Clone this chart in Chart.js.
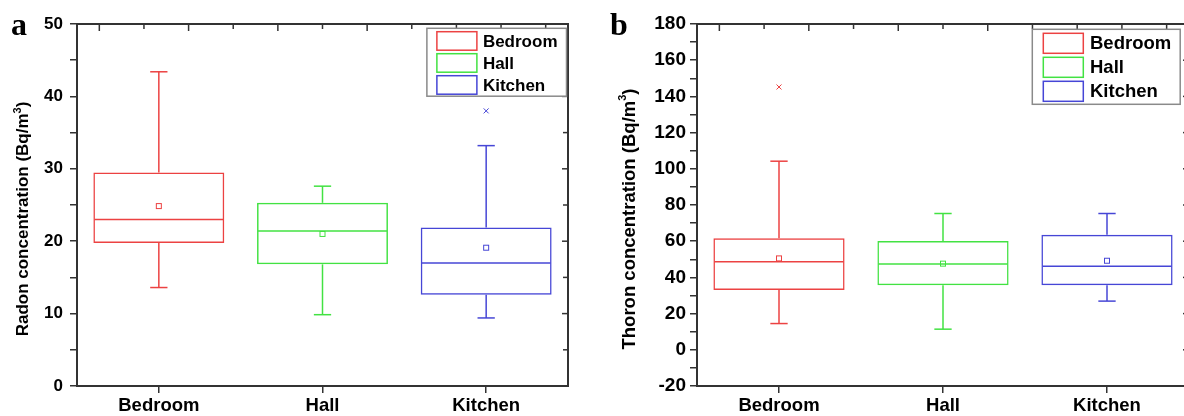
<!DOCTYPE html>
<html><head><meta charset="utf-8">
<script src="https://cdn.jsdelivr.net/npm/chart.js@4.4.1/dist/chart.umd.min.js"></script>
<style>
html,body{margin:0;padding:0;width:1184px;height:416px;overflow:hidden;background:#fff;}
#wrapA{position:absolute;left:0;top:0;width:592px;height:416px;}
#wrapB{position:absolute;left:592px;top:0;width:621px;height:416px;}
.panel{position:absolute;font-family:"Liberation Serif",serif;font-weight:bold;font-size:32px;line-height:32px;color:#000;}
</style></head><body>
<div id="wrapA"><canvas id="cA" width="592" height="416"></canvas></div>
<div id="wrapB"><canvas id="cB" width="621" height="416"></canvas></div>
<div class="panel" style="left:11px;top:8px">a</div>
<div class="panel" style="left:610px;top:8px">b</div>
<script>
// ---------- data ----------
const categories = ['Bedroom', 'Hall', 'Kitchen'];
const seriesColors = ['rgb(236,66,66)', 'rgb(66,226,66)', 'rgb(70,70,214)'];

// Radon (panel a)
const radonMin      = [13.6, 9.85, 9.4];
const radonQ1       = [19.75, 16.8, 12.6];
const radonMedian   = [23.0, 21.4, 17.0];
const radonQ3       = [29.5, 25.3, 21.9];
const radonMax      = [43.4, 27.6, 33.2];
const radonMean     = [24.85, 21.0, 19.1];
const radonOutliers = [[], [], [38.0]];
const radonRange    = [0, 50];
const radonTickStep = 5;
const radonLabelStep = 10;
const radonTitle    = ['Radon concentration (Bq/m', '3', ')'];

// Thoron (panel b)
const thoronMin      = [14.5, 11.4, 26.9];
const thoronQ1       = [33.0, 35.7, 35.6];
const thoronMedian   = [48.6, 47.4, 46.1];
const thoronQ3       = [61.6, 60.1, 63.6];
const thoronMax      = [104.2, 75.3, 75.3];
const thoronMean     = [50.5, 47.6, 49.2];
const thoronOutliers = [[145.2], [], []];
const thoronRange    = [-20, 180];
const thoronTickStep = 10;
const thoronLabelStep = 20;
const thoronTitle    = ['Thoron concentration (Bq/m', '3', ')'];

const FONT = "'Liberation Sans', Arial, sans-serif";
const AXIS = '#333';

function seg(ctx, x1, y1, x2, y2) { ctx.beginPath(); ctx.moveTo(x1, y1); ctx.lineTo(x2, y2); ctx.stroke(); }

const boxPlugin = {
  id: 'boxExtras',
  afterDatasetsDraw(chart, args, opts) {
    const { ctx } = chart;
    const x = chart.scales.x, y = chart.scales.y;
    const s = opts.stats;
    const meta = chart.getDatasetMeta(0);
    ctx.save();
    meta.data.forEach((bar, i) => {
      const cx = x.getPixelForValue(i);
      const half = bar.width / 2;
      const cap = bar.width * 0.066;
      const py = v => y.getPixelForValue(v);
      ctx.strokeStyle = seriesColors[i];
      ctx.lineWidth = 1.5;
      seg(ctx, cx, py(s.q3[i]), cx, py(s.max[i]));
      seg(ctx, cx, py(s.q1[i]), cx, py(s.min[i]));
      seg(ctx, cx - cap, py(s.max[i]), cx + cap, py(s.max[i]));
      seg(ctx, cx - cap, py(s.min[i]), cx + cap, py(s.min[i]));
      seg(ctx, cx - half + 1, py(s.median[i]), cx + half - 1, py(s.median[i]));
      ctx.lineWidth = 1;
      const my = py(s.mean[i]);
      ctx.strokeRect(cx - 2.5, my - 2.5, 5, 5);
      s.outliers[i].forEach(v => {
        const oy = py(v);
        seg(ctx, cx - 2.5, oy - 2.5, cx + 2.5, oy + 2.5);
        seg(ctx, cx - 2.5, oy + 2.5, cx + 2.5, oy - 2.5);
      });
    });
    ctx.restore();
  }
};

const framePlugin = {
  id: 'frame',
  afterDraw(chart, args, opts) {
    const { ctx, chartArea } = chart;
    const { left, right, top, bottom } = chartArea;
    ctx.save();
    // top & right axis lines
    ctx.strokeStyle = AXIS; ctx.lineWidth = 2;
    ctx.beginPath(); ctx.moveTo(left - 1, top); ctx.lineTo(right, top); ctx.lineTo(right, bottom + 1); ctx.stroke();
    // inward ticks
    ctx.lineWidth = 1.5;
    const xt = chart.scales.xTop;
    for (let k = xt.min; k <= xt.max; k++) {
      const px = xt.getPixelForValue(k);
      seg(ctx, px, top, px, top + (k % 2 === 0 ? 7 : 5));
    }
    const ys = chart.scales.y;
    ys.ticks.forEach(t => {
      const py = ys.getPixelForValue(t.value);
      seg(ctx, right, py, right - (t.value % opts.labelStep === 0 ? 6 : 5), py);
    });
    // y title with superscript
    const tf = opts.titleSize;
    ctx.fillStyle = '#000';
    ctx.textBaseline = 'middle';
    ctx.textAlign = 'left';
    const mainFont = 'bold ' + tf + 'px ' + FONT;
    const supFont = 'bold ' + Math.round(tf * 0.62) + 'px ' + FONT;
    ctx.font = mainFont; const w1 = ctx.measureText(opts.title[0]).width;
    ctx.font = supFont; const w2 = ctx.measureText(opts.title[1]).width;
    ctx.font = mainFont; const w3 = ctx.measureText(opts.title[2]).width;
    const total = w1 + w2 + w3;
    ctx.translate(opts.titleX, opts.titleY);
    ctx.rotate(-Math.PI / 2);
    let sx = -total / 2;
    ctx.font = mainFont; ctx.fillText(opts.title[0], sx, 0); sx += w1;
    ctx.font = supFont; ctx.fillText(opts.title[1], sx, -tf * 0.36); sx += w2;
    ctx.font = mainFont; ctx.fillText(opts.title[2], sx, 0);
    ctx.setTransform(1, 0, 0, 1, 0, 0);
    // legend
    const L = opts.legend;
    ctx.font = 'bold ' + L.font + 'px ' + FONT;
    let maxW = 0;
    categories.forEach(c => { maxW = Math.max(maxW, ctx.measureText(c).width); });
    const fw = L.textX + maxW + L.padR;
    const fh = L.padT + L.rowH * categories.length - (L.rowH - L.swH) + L.padB;
    const fx = right - L.rightGap - fw;
    const fy = top + L.topGap;
    ctx.fillStyle = '#fff';
    ctx.fillRect(fx, fy, fw, fh);
    ctx.strokeStyle = '#8a8a8a'; ctx.lineWidth = 1.5;
    ctx.strokeRect(fx, fy, fw, fh);
    categories.forEach((c, i) => {
      const ry = fy + L.padT + i * L.rowH;
      ctx.strokeStyle = seriesColors[i]; ctx.lineWidth = 1.5;
      ctx.strokeRect(fx + L.swX, ry, L.swW, L.swH);
      ctx.fillStyle = '#000';
      ctx.textBaseline = 'middle';
      ctx.fillText(c, fx + L.textX, ry + L.swH / 2 + 1);
    });
    ctx.restore();
  }
};

function makeChart(id, cfg) {
  const stats = { min: cfg.min, q1: cfg.q1, median: cfg.median, q3: cfg.q3, max: cfg.max, mean: cfg.mean, outliers: cfg.outliers };
  return new Chart(document.getElementById(id), {
    type: 'bar',
    data: {
      labels: categories,
      datasets: [{
        data: categories.map((c, i) => [cfg.q1[i], cfg.q3[i]]),
        backgroundColor: 'rgba(0,0,0,0)',
        borderColor: seriesColors,
        borderWidth: 1.5,
        borderSkipped: false,
        barPercentage: 0.8,
        categoryPercentage: 1.0
      }]
    },
    options: {
      responsive: false,
      animation: false,
      devicePixelRatio: 1,
      layout: { padding: { left: 0, right: 24, top: 24, bottom: 0 } },
      plugins: {
        legend: { display: false },
        tooltip: { enabled: false },
        boxExtras: { stats },
        frame: {
          labelStep: cfg.labelStep, title: cfg.title, titleSize: cfg.titleSize,
          titleX: cfg.titleX, titleY: cfg.titleY, legend: cfg.legend
        }
      },
      scales: {
        x: {
          type: 'category',
          offset: true,
          grid: { display: true, drawOnChartArea: false, drawTicks: true, tickLength: 7, offset: false, color: AXIS, lineWidth: 1.5 },
          border: { display: true, color: AXIS, width: 2 },
          ticks: { color: '#000', font: { family: FONT, weight: 'bold', size: 18.5 }, padding: 2 },
          afterFit: s => { s.height = 30; }
        },
        xTop: { type: 'linear', position: 'top', display: false, min: 0, max: 10 },
        y: {
          type: 'linear',
          min: cfg.range[0], max: cfg.range[1],
          grid: { display: true, drawOnChartArea: false, drawTicks: true, tickLength: 7, color: AXIS, lineWidth: 1.5 },
          border: { display: true, color: AXIS, width: 2 },
          ticks: {
            stepSize: cfg.tickStep, autoSkip: false, color: '#000', padding: cfg.tickPad,
            font: { family: FONT, weight: 'bold', size: cfg.tickSize },
            callback: v => (v % cfg.labelStep === 0 ? String(v) : '')
          },
          afterFit: s => { s.width = cfg.yWidth; }
        }
      }
    },
    plugins: [boxPlugin, framePlugin]
  });
}

makeChart('cA', {
  min: radonMin, q1: radonQ1, median: radonMedian, q3: radonQ3, max: radonMax, mean: radonMean, outliers: radonOutliers,
  range: radonRange, tickStep: radonTickStep, labelStep: radonLabelStep, title: radonTitle,
  yWidth: 77, tickSize: 17, tickPad: 7, titleSize: 17, titleX: 23.7, titleY: 219,
  legend: { font: 17, rightGap: 1.5, topGap: 4.3, padT: 3.4, padB: 2, rowH: 22, swX: 10, swW: 40, swH: 18.5, textX: 56, padR: 9 }
});
makeChart('cB', {
  min: thoronMin, q1: thoronQ1, median: thoronMedian, q3: thoronQ3, max: thoronMax, mean: thoronMean, outliers: thoronOutliers,
  range: thoronRange, tickStep: thoronTickStep, labelStep: thoronLabelStep, title: thoronTitle,
  yWidth: 105, tickSize: 19, tickPad: 4, titleSize: 18.5, titleX: 38, titleY: 219,
  legend: { font: 18.5, rightGap: 8.8, topGap: 5.3, padT: 4, padB: 3, rowH: 24, swX: 11, swW: 40, swH: 20, textX: 57.7, padR: 9 }
});
</script>
</body></html>
